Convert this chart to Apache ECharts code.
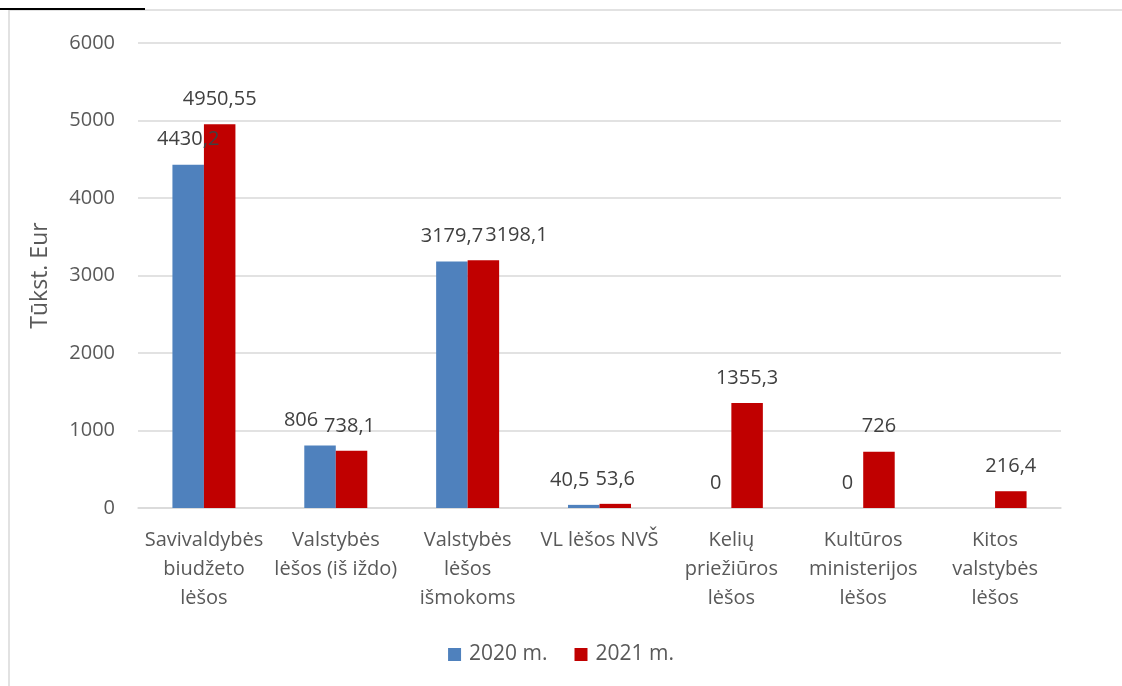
<!DOCTYPE html>
<html>
<head>
<meta charset="utf-8">
<script src="https://cdn.jsdelivr.net/npm/echarts@6/dist/echarts.min.js"></script>
<style>
  html, body { margin: 0; padding: 0; background: #fff; }
  #main { width: 1122px; height: 686px; }
</style>
</head>
<body>
<div id="main"></div>
<script>
// 数据
var categories = [
  'Savivaldybės\nbiudžeto\nlėšos',
  'Valstybės\nlėšos (iš iždo)',
  'Valstybės\nlėšos\nišmokoms',
  'VL lėšos NVŠ',
  'Kelių\npriežiūros\nlėšos',
  'Kultūros\nministerijos\nlėšos',
  'Kitos\nvalstybės\nlėšos'
];
var values2020 = [4430.2, 806, 3179.7, 40.5, 0, 0, null];
var values2021 = [4950.55, 738.1, 3198.1, 53.6, 1355.3, 726, 216.4];
var yTicks = [0, 1000, 2000, 3000, 4000, 5000, 6000];

// 标签水平偏移（原图中手动挪开的标签）
var shift2020 = [0, -19, 0, -14, 0, 0, 0];
var shift2021 = [0, -2, 33, 0, 0, 0, 0];

var fontName = '"Open Sans", "Noto Sans", sans-serif';

// 逗号作为小数点
function fmt(p) {
  if (p.value === null || p.value === undefined) return '';
  return String(p.value).replace('.', ',');
}

function build(values, shifts) {
  return values.map(function (v, i) {
    return { value: v, label: { offset: [shifts[i], 0] } };
  });
}

var labelStyle = {
  show: true,
  position: 'top',
  distance: 15,
  color: '#404040',
  fontSize: 20,
  fontFamily: fontName,
  formatter: fmt
};

var myChart = echarts.init(document.getElementById('main'));

var option = {
  backgroundColor: '#ffffff',
  color: ['#4f81bd', '#c00000'],
  textStyle: { fontFamily: fontName },
  grid: {
    left: 138,
    right: 61,
    top: 43,
    bottom: 178
  },
  legend: {
    bottom: 16,
    left: 'center',
    itemWidth: 13,
    itemHeight: 13,
    itemGap: 27,
    icon: 'rect',
    textStyle: { color: '#595959', fontSize: 21, fontFamily: fontName, padding: [0, 0, 0, 3] }
  },
  xAxis: {
    type: 'category',
    data: categories,
    axisTick: { show: false },
    axisLine: { lineStyle: { color: '#d9d9d9', width: 1.5 } },
    axisLabel: {
      color: '#595959',
      fontSize: 20,
      lineHeight: 29,
      margin: 18,
      interval: 0,
      fontFamily: fontName
    }
  },
  yAxis: {
    type: 'value',
    min: yTicks[0],
    max: yTicks[yTicks.length - 1],
    interval: 1000,
    name: 'Tūkst. Eur',
    nameLocation: 'middle',
    nameGap: 86,
    nameRotate: 90,
    nameTextStyle: { color: '#595959', fontSize: 23, fontFamily: fontName },
    axisLine: { show: false },
    axisTick: { show: false },
    axisLabel: {
      color: '#595959',
      fontSize: 20,
      margin: 23,
      fontFamily: fontName,
      formatter: function (v) { return String(v); }
    },
    splitLine: { lineStyle: { color: '#d9d9d9', width: 1.5 } }
  },
  series: [
    {
      name: '2020 m.',
      type: 'bar',
      data: build(values2020, shift2020),
      barWidth: 31.5,
      barGap: '0%',
      label: labelStyle
    },
    {
      name: '2021 m.',
      type: 'bar',
      data: build(values2021, shift2021),
      barWidth: 31.5,
      barGap: '0%',
      label: labelStyle
    }
  ],
  graphic: [
    // 外框
    {
      type: 'rect',
      shape: { x: 9, y: 10, width: 1130, height: 700 },
      style: { fill: null, stroke: '#d9d9d9', lineWidth: 1.5 },
      silent: true
    },
    // 顶部被截断的标题下划线
    {
      type: 'line',
      shape: { x1: 0, y1: 9, x2: 145, y2: 9 },
      style: { stroke: '#000000', lineWidth: 2 },
      silent: true
    }
  ]
};

myChart.setOption(option);

window.addEventListener('resize', function () {
  myChart.resize();
});
</script>
</body>
</html>
